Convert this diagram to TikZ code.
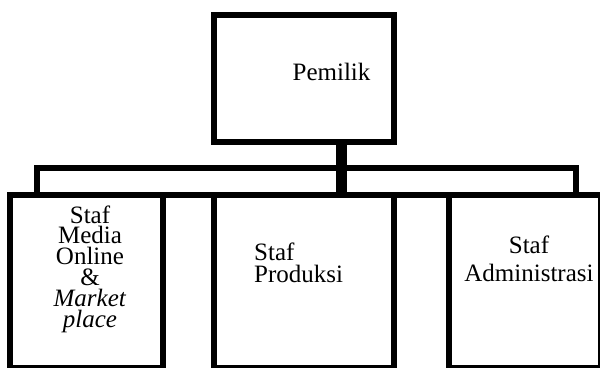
\documentclass[tikz,border=0pt]{standalone}
\usepackage{fontspec}
\setmainfont{Liberation Serif}
\begin{document}
\begin{tikzpicture}[x=1pt,y=-1pt,
  boxstyle/.style={draw=black,line width=6pt,rectangle,inner sep=0pt,outer sep=0pt,fill=none},
  linkstyle/.style={draw=black,line width=6pt},
  stemstyle/.style={draw=black,line width=11pt},
  txt/.style={inner sep=0pt,font=\fontsize{25}{20.8}\selectfont}]
\useasboundingbox (0,0) rectangle (600,367);
% boxes (centre-line geometry)
\node[boxstyle,minimum width=180pt,minimum height=127pt] (pemilik) at (304,78.5) {};
\node[boxstyle,minimum width=153pt,minimum height=173pt] (media) at (86.5,281.5) {};
\node[boxstyle,minimum width=180pt,minimum height=173pt] (produksi) at (304,281.5) {};
\node[boxstyle,minimum width=152pt,minimum height=173pt] (admin) at (525,281.5) {};
% texts (base anchor = baseline of the last line)
\node[txt,anchor=base] (tpemilik) at (331.5,80) {Pemilik};
\node[txt,align=center,anchor=base] (tmedia) at (90,327) {Staf\\Media\\Online\\\&\\\textit{Market}\\\textit{place}};
\node[txt,align=left,anchor=base west] (tprod) at (254,282) {Staf\\[1pt]Produksi};
\node[txt,align=center,anchor=base] (tadmin) at (529,281) {Staf\\[7pt]Administrasi};
% connector coordinates
\coordinate (stemtop) at (341.5,142);
\coordinate (stembot) at (341.5,195);
\coordinate (ltop) at (37,168);
\coordinate (lbot) at (37,195);
\coordinate (rtop) at (576,168);
\coordinate (rbot) at (576,195);
% connectors
\draw[stemstyle] (stemtop) -- (stembot);
\draw[linkstyle] (media.north east) -- (produksi.north west);
\draw[linkstyle] (produksi.north east) -- (admin.north west);
\draw[linkstyle,line join=miter] (lbot) -- (ltop) -- (rtop) -- (rbot);
\end{tikzpicture}
\end{document}
